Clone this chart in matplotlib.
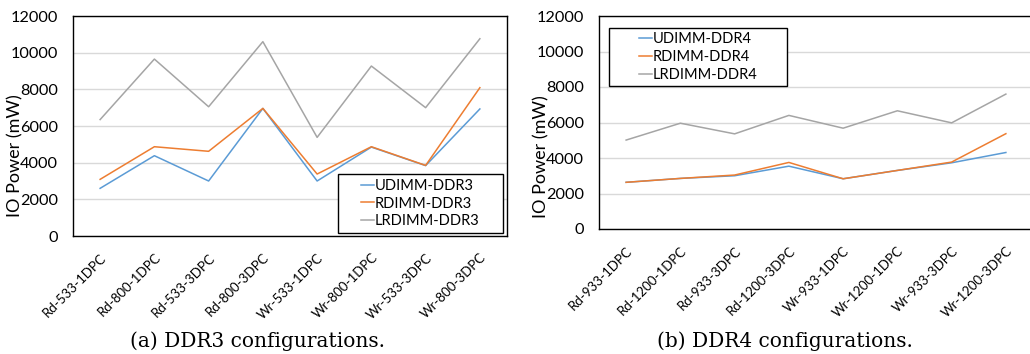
import matplotlib
matplotlib.use("Agg")
import matplotlib.pyplot as plt
from matplotlib.patches import Rectangle
import numpy as np

matplotlib.rc("font", family="Lato", size=10.5)

# Data (IO power in mW)
ddr3Configs = ["Rd-533-1DPC", "Rd-800-1DPC", "Rd-533-3DPC", "Rd-800-3DPC",
               "Wr-533-1DPC", "Wr-800-1DPC", "Wr-533-3DPC", "Wr-800-3DPC"]
ddr3Udimm = [2600, 4380, 3000, 6960, 3000, 4850, 3840, 6930]
ddr3Rdimm = [3090, 4870, 4620, 6960, 3380, 4870, 3850, 8090]
ddr3Lrdimm = [6350, 9650, 7050, 10600, 5380, 9270, 7000, 10760]

ddr4Configs = ["Rd-933-1DPC", "Rd-1200-1DPC", "Rd-933-3DPC", "Rd-1200-3DPC",
               "Wr-933-1DPC", "Wr-1200-1DPC", "Wr-933-3DPC", "Wr-1200-3DPC"]
ddr4Udimm = [2630, 2850, 3000, 3540, 2830, 3300, 3730, 4310]
ddr4Rdimm = [2630, 2850, 3040, 3750, 2830, 3300, 3770, 5370]
ddr4Lrdimm = [5010, 5960, 5360, 6400, 5680, 6660, 5980, 7600]

# Colours
blue = "#5B9BD5"
orange = "#ED7D31"
grey = "#A5A5A5"

W, H = 1030, 354
fig = plt.figure(figsize=(W / 100, H / 100), dpi=100)


def panel(rect, configs, series, labels, legendBox, labelY, caption, capX):
    ax = fig.add_axes(rect)
    x = np.arange(len(configs))
    for values, colour, label in zip(series, [blue, orange, grey], labels):
        ax.plot(x, values, color=colour, lw=1.1, label=label)
    ax.set_xlim(-0.5, len(configs) - 0.5)
    ax.set_ylim(0, 12000)
    ax.set_yticks(np.arange(0, 12001, 2000))
    ax.grid(axis="y", color="#d9d9d9", lw=1.0)
    ax.set_axisbelow(True)
    for s in ax.spines.values():
        s.set_color("black")
        s.set_linewidth(1.0)
    ax.tick_params(length=0)
    ax.tick_params(axis="y", labelsize=11.7, pad=11)
    ax.tick_params(axis="x", pad=11)
    ax.set_xticks(x)
    ax.set_xticklabels(configs, rotation=45, ha="right",
                       rotation_mode="anchor", fontsize=9.5)
    ax.set_ylabel("IO Power (mW)", fontsize=13)
    ax.yaxis.set_label_coords(-0.115, labelY)

    # legend: text without frame, box drawn separately (wide side padding)
    bx, by, bw, bh = legendBox
    ax.legend(loc="center", bbox_to_anchor=(bx + bw / 2, by + bh / 2),
              frameon=False, handlelength=0.9, handletextpad=0.05,
              labelspacing=0.25, borderpad=0, borderaxespad=0)
    ax.add_patch(Rectangle((bx, by), bw, bh, transform=ax.transAxes,
                           facecolor="white", edgecolor="black", lw=1.0,
                           zorder=4.5))
    fig.text(capX, 0.035, caption, family="DejaVu Serif", fontsize=14.5,
             ha="center", va="center")
    return ax


panel([73 / W, (H - 236) / H, 434 / W, 220 / H], ddr3Configs,
      [ddr3Udimm, ddr3Rdimm, ddr3Lrdimm],
      ["UDIMM-DDR3", "RDIMM-DDR3", "LRDIMM-DDR3"],
      (0.6106, 0.0136, 0.380, 0.268), 0.364,
      "(a) DDR3 configurations.", 258 / W)

panel([599 / W, (H - 229) / H, 434 / W, 213 / H], ddr4Configs,
      [ddr4Udimm, ddr4Rdimm, ddr4Lrdimm],
      ["UDIMM-DDR4", "RDIMM-DDR4", "LRDIMM-DDR4"],
      (0.023, 0.671, 0.410, 0.272), 0.338,
      "(b) DDR4 configurations.", 785 / W)

fig.savefig("out.png", dpi=100)
